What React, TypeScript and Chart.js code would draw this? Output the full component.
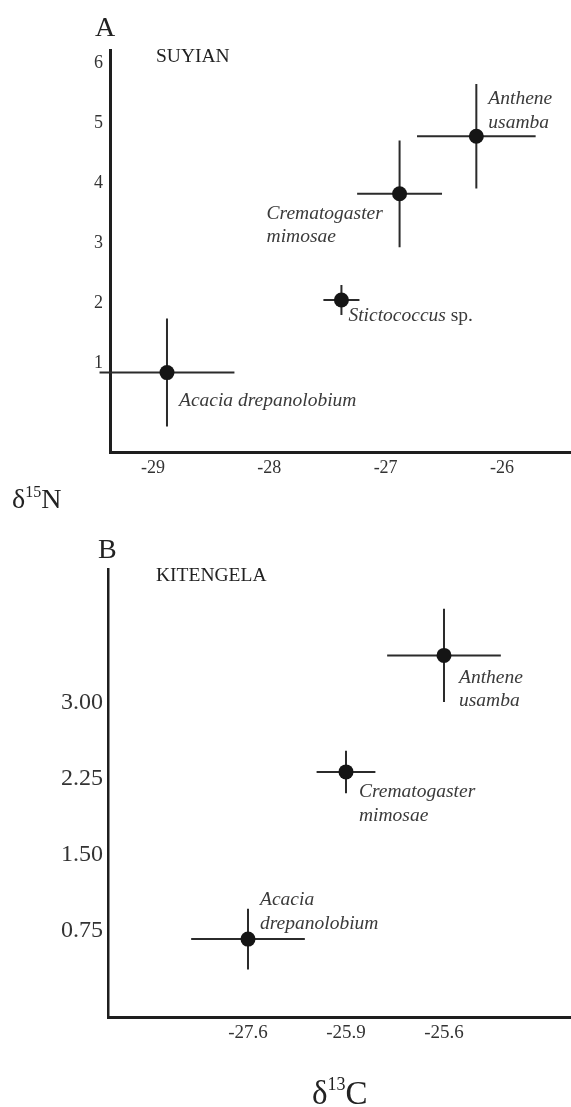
import React, { useEffect, useRef } from 'react';
import { Chart, registerables } from 'chart.js';

Chart.register(...registerables);

// ---------- Panel A : SUYIAN ----------
const suyLabelLines = [
  ['Anthene', 'usamba'],
  ['Crematogaster', 'mimosae'],
  ['Stictococcus sp.'],
  ['Acacia drepanolobium'],
];
const suyC13 = [-26.22, -26.88, -27.38, -28.88];
const suyN15 = [4.78, 3.82, 2.05, 0.84];
const suyC13Err = [0.51, 0.365, 0.155, 0.58];
const suyN15Err = [0.87, 0.89, 0.25, 0.9];
const suyXTicks = [-29, -28, -27, -26];
const suyYTicks = [1, 2, 3, 4, 5, 6];

// ---------- Panel B : KITENGELA ----------
const kitLabelLines = [
  ['Anthene', 'usamba'],
  ['Crematogaster', 'mimosae'],
  ['Acacia', 'drepanolobium'],
];
const kitC13 = [-25.6, -25.9, -27.6];
const kitN15 = [3.47, 2.32, 0.67];
const kitC13Err = [0.58, 0.3, 0.58]; // in tick-step units (axis is drawn with even tick spacing)
const kitN15Err = [0.46, 0.21, 0.3];
const kitXTicks = [-27.6, -25.9, -25.6];
const kitYTicks = [0.75, 1.5, 2.25, 3.0];

// label placement (pixel offsets from the point) - style only
const suyLabelOffsets = [[12, -37], [-133, 20], [7, 16], [12, 28]];
const kitLabelOffsets = [[15, 22], [13, 20], [12, -39]];

const FAMILY = '"Liberation Serif", "Times New Roman", serif';
const INK = '#222';

function makePlugin(lines: string[][], offsets: number[][]) {
  return {
    id: 'errAndLabels',
    beforeDatasetsDraw(chart: any) {
      const { ctx, scales } = chart;
      const x = scales.x, y = scales.y;
      ctx.save();
      ctx.strokeStyle = '#2b2b2b';
      ctx.lineWidth = 2;
      chart.data.datasets[0].data.forEach((p: any) => {
        const px = x.getPixelForValue(p.x);
        const py = y.getPixelForValue(p.y);
        ctx.beginPath();
        ctx.moveTo(x.getPixelForValue(p.x - p.xe), py);
        ctx.lineTo(x.getPixelForValue(p.x + p.xe), py);
        ctx.moveTo(px, y.getPixelForValue(p.y + p.ye));
        ctx.lineTo(px, y.getPixelForValue(p.y - p.ye));
        ctx.stroke();
      });
      ctx.restore();
    },
    afterDatasetsDraw(chart: any) {
      const { ctx, scales } = chart;
      const x = scales.x, y = scales.y;
      ctx.save();
      ctx.fillStyle = '#3a3a3a';
      ctx.textBaseline = 'middle';
      ctx.textAlign = 'left';
      chart.data.datasets[0].data.forEach((p: any, i: number) => {
        const px = x.getPixelForValue(p.x);
        const py = y.getPixelForValue(p.y);
        let ly = py + offsets[i][1];
        lines[i].forEach((line) => {
          let lx = px + offsets[i][0];
          line.split(' ').forEach((w) => {
            const italic = w !== 'sp.';
            ctx.font = `${italic ? 'italic ' : ''}19.5px ${FAMILY}`;
            ctx.fillText(w, lx, ly);
            lx += ctx.measureText(w + ' ').width;
          });
          ly += 23.5;
        });
      });
      ctx.restore();
    },
  };
}

function baseScale(extra: any) {
  return {
    type: 'linear',
    grid: { display: false, drawTicks: false },
    border: { display: true, width: 3, color: '#1e1e1e' },
    ...extra,
  };
}

function configA(): any {
  const data = suyC13.map((c, i) => ({ x: c, y: suyN15[i], xe: suyC13Err[i], ye: suyN15Err[i] }));
  return {
    type: 'scatter',
    data: {
      datasets: [{
        data,
        pointRadius: 7.5,
        pointHoverRadius: 7.5,
        pointBackgroundColor: '#151515',
        pointBorderWidth: 0,
        clip: false,
      }],
    },
    options: {
      animation: false,
      responsive: false,
      events: [],
      layout: { autoPadding: false, padding: { top: 50, left: 0, right: 0, bottom: 48 } },
      plugins: { legend: { display: false }, tooltip: { enabled: false } },
      scales: {
        x: baseScale({
          min: -29.37,
          max: -25.406,
          afterBuildTicks: (s: any) => { s.ticks = suyXTicks.map((v) => ({ value: v })); },
          afterFit: (s: any) => { s.height = 40; },
          ticks: {
            autoSkip: false, maxRotation: 0, padding: 5, color: '#333',
            font: { family: FAMILY, size: 18 },
            callback: (v: any) => String(v),
          },
        }),
        y: baseScale({
          min: -0.483,
          max: 6.217,
          afterBuildTicks: (s: any) => { s.ticks = suyYTicks.map((v) => ({ value: v })); },
          afterFit: (s: any) => { s.width = 110; },
          ticks: {
            autoSkip: false, padding: 7, color: '#333',
            font: { family: FAMILY, size: 18 },
            callback: (v: any) => String(v),
          },
        }),
      },
    },
    plugins: [makePlugin(suyLabelLines, suyLabelOffsets)],
  };
}

function configB(): any {
  const data = kitC13.map((c, i) => ({
    x: kitXTicks.indexOf(c) + 1,
    y: kitN15[i],
    xe: kitC13Err[i],
    ye: kitN15Err[i],
  }));
  return {
    type: 'scatter',
    data: {
      datasets: [{
        data,
        pointRadius: 7.5,
        pointHoverRadius: 7.5,
        pointBackgroundColor: '#151515',
        pointBorderWidth: 0,
        clip: false,
      }],
    },
    options: {
      animation: false,
      responsive: false,
      events: [],
      layout: { autoPadding: false, padding: { top: 29, left: 0, right: 0, bottom: 40 } },
      plugins: { legend: { display: false }, tooltip: { enabled: false } },
      scales: {
        x: baseScale({
          min: -0.4286,
          max: 4.296,
          afterBuildTicks: (s: any) => { s.ticks = kitXTicks.map((_, i) => ({ value: i + 1 })); },
          afterFit: (s: any) => { s.height = 50; },
          ticks: {
            autoSkip: false, maxRotation: 0, padding: 5, color: '#333',
            font: { family: FAMILY, size: 19 },
            callback: (_v: any, i: number) => kitXTicks[i].toFixed(1),
          },
        }),
        y: baseScale({
          min: -0.099,
          max: 4.323,
          border: { display: true, width: 2.5, color: '#1e1e1e' },
          afterBuildTicks: (s: any) => { s.ticks = kitYTicks.map((v) => ({ value: v })); },
          afterFit: (s: any) => { s.width = 108; },
          ticks: {
            autoSkip: false, padding: 5, color: '#333',
            font: { family: FAMILY, size: 24 },
            callback: (v: any) => Number(v).toFixed(2),
          },
        }),
      },
    },
    plugins: [makePlugin(kitLabelLines, kitLabelOffsets)],
  };
}

const txt = (left: number, top: number, size: number): React.CSSProperties => ({
  position: 'absolute',
  left,
  top,
  fontSize: size,
  lineHeight: 1,
  whiteSpace: 'nowrap',
  fontFamily: FAMILY,
  color: INK,
});

export default function App() {
  const refA = useRef<HTMLCanvasElement>(null);
  const refB = useRef<HTMLCanvasElement>(null);

  useEffect(() => {
    const a = new Chart(refA.current as HTMLCanvasElement, configA());
    const b = new Chart(refB.current as HTMLCanvasElement, configB());
    return () => {
      a.destroy();
      b.destroy();
    };
  }, []);

  return (
    <div style={{ position: 'absolute', left: 0, top: 0, width: 571, height: 1107, background: '#fff', overflow: 'hidden' }}>
      <canvas ref={refA} width={571} height={540} style={{ position: 'absolute', left: 0, top: 0, display: 'block' }} />
      <canvas ref={refB} width={571} height={567} style={{ position: 'absolute', left: 0, top: 540, display: 'block' }} />

      <div style={txt(95, 12.5, 28)}>A</div>
      <div style={txt(156, 46.4, 19.5)}>SUYIAN</div>
      <div style={txt(12, 484.5, 28)}>
        δ<span style={{ fontSize: 16, position: 'relative', top: -11 }}>15</span>N
      </div>

      <div style={txt(98, 534.5, 28)}>B</div>
      <div style={txt(156, 565.4, 19.5)}>KITENGELA</div>
      <div style={txt(312, 1077.4, 33)}>
        δ<span style={{ fontSize: 18, position: 'relative', top: -14 }}>13</span>C
      </div>
    </div>
  );
}
